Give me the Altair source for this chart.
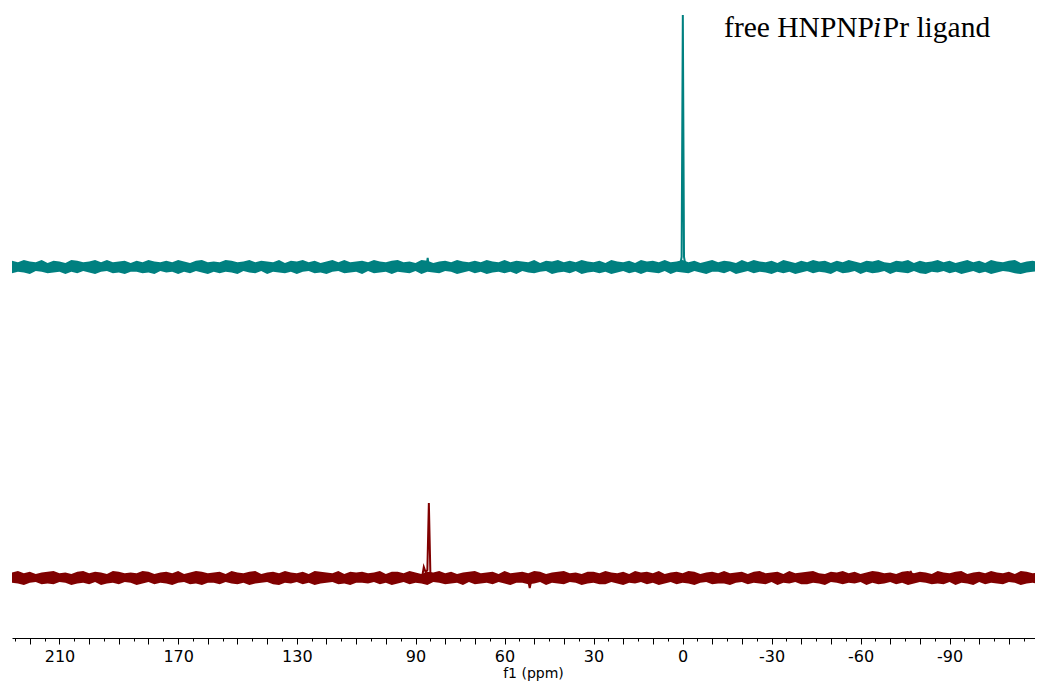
import altair as alt
import pandas as pd

# ---------------- data ----------------
# chemical-shift grid (ppm) of the noise samples: 226 down to -120 in 2 ppm steps
noise_start = 226
noise_step = -2

# baselines of the two stacked spectra (arbitrary intensity units)
baseline_top = 371
baseline_bot = 60
band_half = 5.5   # half-thickness of the noise band
jitter_unit = 0.8  # intensity units per noise step

# ragged upper / lower edges of the noise band
top_upper = [
    1, -1, 2, 0, -1, 2, -2, 1, 0, -2, 2, 1, -1, 0, 2, -1, 2, -1, 0, 1,
    -2, 1, -1, 2, 0, -1, 1, -1, 2, 0, -2, 1, 2, -1, 0, -1, 2, 1, -1, 0,
    2, -1, 1, 0, -1, 2, -2, 1, 0, 2, -1, 1, -2, 0, 2, -1, 2, -1, 0, 1,
    -1, 2, 0, -1, 1, 2, -1, 0, -2, 2, 1, -2, 0, 1, -1, 2, 0, -1, 1, -1,
    2, 0, -1, 2, -1, 1, 0, -1, 2, -2, 1, 0, 2, -1, 1, -1, 2, 0, -1, 1,
    -2, 2, 0, -1, 1, -2, 2, 0, 1, -1, 2, -1, 0, 2, -1, 1, -2, 0, 2, -1,
    1, 0, -2, 2, -1, 2, 0, -1, 1, -2, 2, 0, -2, 1, -1, 2, 0, 1, -2, 1,
    -1, 2, 0, -2, 1, 0, 2, -1, -2, 1, 0, 2, -2, 1, -1, 0, 2, -1, 1, -2,
    0, 2, -1, 1, -2, 2, 0, -1, 1, 2, -2, 0, 1, -1,
]
top_lower = [
    -1, 1, 0, -2, 2, 1, -1, 0, 1, -2, 1, -1, 2, 0, -2, 1, 2, -1, 0, -2,
    1, 1, -1, 0, -2, 2, 0, 1, -2, 1, -1, 2, 0, -2, 1, -1, 1, 0, -2, 2,
    0, -1, 2, -2, 1, 0, -1, 1, -2, 1, 2, -1, 0, -2, 1, 2, -1, 0, 1, -2,
    2, -1, 0, 1, -2, 1, 0, -1, 2, -2, 1, 0, -1, 2, 1, -2, 0, 2, -1, 1,
    -2, 0, 1, -1, 1, -2, 2, 0, -1, 1, 2, -2, 0, 1, -1, 2, -2, 0, 1, -1,
    1, -2, 0, 2, -1, 1, -2, 1, 0, -1, 2, -2, 1, 0, -1, 2, 0, -2, 1, 1,
    -1, 2, -2, 0, 2, -1, 1, 0, -2, 1, -1, 1, -2, 0, 2, -1, 1, 0, -2, 2,
    -1, 0, 2, -2, 1, -1, 0, 2, -2, 1, 0, -1, 2, -1, -2, 1, 0, 2, -1, 1,
    -2, 0, 2, -1, 1, -2, 0, 2, 1, -1, -2, 0, 1, 2,
]
bot_upper = [
    0, 2, -1, 1, -2, 0, 1, 2, -1, 0, -2, 1, 2, -1, 1, 0, -2, 2, 1, -1,
    0, -1, 2, 1, -2, 0, 1, -1, 2, -2, 0, 2, 1, -1, 0, 1, -2, 2, 0, -1,
    1, 2, -2, 0, 1, -1, 2, 0, -1, 1, -2, 2, 1, 0, -1, 2, -2, 1, 0, 1,
    -1, 0, 2, -2, 1, 1, -1, 2, 0, -2, 1, 0, 2, -1, 1, -2, 0, 1, 2, -1,
    0, 1, -2, 2, -1, 0, 1, -1, 2, 1, -2, 0, 1, 2, -1, 0, -2, 1, 1, -1,
    2, 0, -1, 1, -2, 2, 0, 1, -1, 2, -2, 0, 1, -1, 2, 1, -2, 0, 1, -1,
    2, -1, 0, 1, -2, 1, 2, -1, 0, 1, -2, 2, -1, 0, 1, 2, -1, -2, 1, 0,
    2, -1, 1, -2, 0, 2, 1, -1, 0, -2, 1, 2, -1, 1, 0, -2, 2, 0, -1, 1,
    2, -2, 0, 1, -1, 2, 0, -1, 1, -2, 2, 1, -1, 0,
]
bot_lower = [
    1, 0, -2, 1, 2, -1, 0, -1, 2, 1, -2, 0, 1, -1, 2, -2, 0, 1, -1, 2,
    1, -2, 0, 2, -1, 1, 0, -2, 1, 2, -1, 0, -2, 1, 1, -1, 2, 0, -1, 1,
    -2, 0, 1, 2, -1, -2, 1, 0, 2, -1, 1, -2, 0, 1, 2, -1, 0, -2, 1, 1,
    0, 2, -1, 1, -2, 0, 2, -1, 1, 0, -2, 2, 1, -1, 0, 1, -2, 2, -1, 0,
    1, -1, 2, 0, -2, 1, 1, -1, 0, 2, -2, 1, 0, -1, 2, 1, -2, 0, 1, -1,
    -1, 2, 0, -2, 1, 0, 2, -1, 1, -2, 0, 2, -1, 1, 0, -2, 1, 2, -1, 0,
    0, -2, 1, 2, -1, 1, 0, -1, 2, -2, 1, 0, 2, -1, -1, 1, 0, -2, 2, 1,
    -1, 1, 0, 2, -2, 1, -1, 0, 2, -1, 1, -2, 0, 2, 1, -1, 0, -1, 2, -2,
    1, 0, -2, 2, -1, 1, 0, -1, 2, 1, -2, 0, 1, -1,
]

# resolved signals (ppm, height above baseline, group)
top_feat_ppm = [86.3, 85.9, 85.5, 0.9, 0.3, -0.1, -0.5, -1.1]
top_feat_h = [0, 9, 0, 0, 10, 252, 10, 0]
top_feat_grp = [1, 1, 1, 2, 2, 2, 2, 2]

bot_feat_ppm = [88.6, 87.6, 87.2, 86.6, 86.0, 85.5, 85.0, 84.3,
                52.2, 51.5, 50.8, -76.4, -76.9, -77.4]
bot_feat_h = [0, 4, 11, 6, 8, 75, 6, 0, 0, -10, 0, 0, 7, 0]
bot_feat_grp = [1, 1, 1, 1, 1, 1, 1, 1, 2, 2, 2, 3, 3, 3]

# axis
tick_values = list(range(-115, 226, 5))
label_values = [210, 170, 130, 90, 60, 30, 0, -30, -60, -90]

# annotation pieces (text, ppm, intensity, style)
ann_text = ["free HNPNP", "i", "Pr ligand"]
ann_ppm = [-14.0, -64.2, -67.5]
ann_y = [601, 601, 601]
ann_style = ["normal", "italic", "normal"]

trace_names = ["ligand", "complex"]
trace_colors = ["#008080", "#800000"]

# ---------------- tables ----------------
rows = []
for i, (u, l) in enumerate(zip(top_upper, top_lower)):
    rows.append({"ppm": noise_start + noise_step * i,
                 "hi": baseline_top + band_half + u * jitter_unit,
                 "lo": baseline_top - band_half + l * jitter_unit, "trace": "ligand"})
for i, (u, l) in enumerate(zip(bot_upper, bot_lower)):
    rows.append({"ppm": noise_start + noise_step * i,
                 "hi": baseline_bot + band_half + u * jitter_unit,
                 "lo": baseline_bot - band_half + l * jitter_unit, "trace": "complex"})
noise_df = pd.DataFrame(rows)

frows = []
for p, h, g in zip(top_feat_ppm, top_feat_h, top_feat_grp):
    frows.append({"ppm": p, "y": baseline_top + h, "trace": "ligand", "grp": "t%d" % g})
for p, h, g in zip(bot_feat_ppm, bot_feat_h, bot_feat_grp):
    frows.append({"ppm": p, "y": baseline_bot + h, "trace": "complex", "grp": "b%d" % g})
feat_df = pd.DataFrame(frows)

ann_df = pd.DataFrame({"text": ann_text, "ppm": ann_ppm, "y": ann_y, "style": ann_style})

# ---------------- chart ----------------
label_list = ",".join(str(v) for v in label_values)
x_scale = alt.Scale(domain=[-118.8, 226.0], reverse=True, nice=False, zero=False)
y_scale = alt.Scale(domain=[0, 630], nice=False, zero=False)
color_scale = alt.Scale(domain=trace_names, range=trace_colors)

x_axis = alt.Axis(
    values=tick_values,
    labelExpr="indexof([" + label_list + "], datum.value) >= 0 ? toString(datum.value) : ''",
    tickSize={"condition": {"test": "datum.value % 10 == 0", "value": 6}, "value": 3},
    tickColor="black",
    domainColor="black",
    tickWidth=1,
    domainWidth=1,
    grid=False,
    labelOverlap=False,
    labelFlush=False,
    labelBound=False,
    labelFont="DejaVu Sans",
    labelFontSize=16,
    labelColor="black",
    labelPadding=4,
    title="f1 (ppm)",
    titleFont="DejaVu Sans",
    titleFontSize=14,
    titleFontWeight="normal",
    titleColor="black",
    titlePadding=2,
    titleX=521,
)

x_enc = alt.X("ppm:Q", scale=x_scale, axis=x_axis)

noise = alt.Chart(noise_df).mark_area(clip=True, opacity=1).encode(
    x=x_enc,
    y=alt.Y("hi:Q", scale=y_scale, axis=None),
    y2="lo:Q",
    color=alt.Color("trace:N", scale=color_scale, legend=None),
)

feats = alt.Chart(feat_df).mark_line(strokeWidth=2, clip=True).encode(
    x=x_enc,
    y=alt.Y("y:Q", scale=y_scale, axis=None),
    color=alt.Color("trace:N", scale=color_scale, legend=None),
    detail="grp:N",
    order=alt.Order("ppm:Q", sort="descending"),
)

ann_base = alt.Chart(ann_df).encode(
    x=x_enc,
    y=alt.Y("y:Q", scale=y_scale, axis=None),
    text="text:N",
)
ann_normal = ann_base.transform_filter(alt.datum.style == "normal").mark_text(
    font="Liberation Serif", fontSize=29.5, align="left", baseline="alphabetic", color="black"
)
ann_italic = ann_base.transform_filter(alt.datum.style == "italic").mark_text(
    font="Liberation Serif", fontSize=29.5, fontStyle="italic", align="left",
    baseline="alphabetic", color="black"
)

chart = alt.layer(noise, feats, ann_normal, ann_italic).properties(
    width=1023,
    height=630,
    autosize=alt.AutoSizeParams(type="none"),
    padding={"left": 4, "top": 0, "right": 0, "bottom": 44},
    background="white",
).configure_view(stroke=None)

chart.save("out.html", embed_options={"renderer": "svg", "actions": False})
